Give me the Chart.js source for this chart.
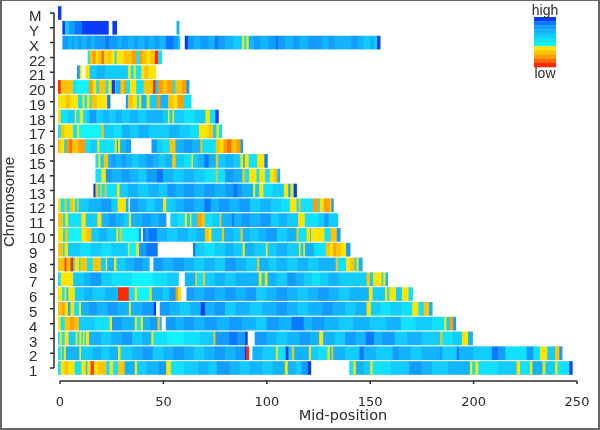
<!DOCTYPE html>
<html>
<head>
<meta charset="utf-8">
<script src="https://cdn.jsdelivr.net/npm/chart.js@4"></script>
<style>
  html, body { margin: 0; background: #fff; }
  #frame { position: relative; width: 600px; height: 430px; box-sizing: border-box; border: 2px solid #666; border-top-width: 1px; overflow: hidden; }
  /* the reference is a soft, scaled-up bitmap */
  #chart { position: absolute; left: -2px; top: -1px; filter: blur(0.45px); }
</style>
</head>
<body>
<div id="frame"><canvas id="chart" width="600" height="430"></canvas></div>
<script>
const CHROMOSOMES = ["M", "Y", "X", "22", "21", "20", "19", "18", "17", "16", "15", "14", "13", "12", "11", "10", "9", "8", "7", "6", "5", "4", "3", "2", "1"];
const X_TICKS = [0, 50, 100, 150, 200, 250];

// colour of each level, 0 = low ... 11 = high
const LEVEL_COLORS = ["#ff2a00", "#ff6a00", "#ff9c00", "#ffc400", "#ffe400", "#12f2ff", "#12e0ff", "#12ccff", "#12b4ff", "#129cff", "#0a78ff", "#0a3cf5"];

// every run is [end in Mb, level]; null level = no data
const chrM = [[0.5, 11]];
const chrY = [[1.3, null], [2.6, 11], [4.5, 7], [7.3, 9], [10.8, 10], [23.4, 11], [25.5, null], [27.4, 11], [56.5, null], [57.6, 8]];
const chrX = [[1.3, null], [4, 9], [6, 8], [7, 9], [9, 8], [10.5, 9], [13, 8], [15, 9], [17, 8], [19, 9], [22, 9], [24, 10], [28, 9], [30, 8], [33, 9], [36, 8], [38, 9], [41, 8], [43, 9], [46, 8], [48, 9], [51.3, 8], [55, 10], [57.3, 9], [58, 7], [60.5, null], [62, 11], [65, 9], [68, 8], [72, 9], [75, 8], [76.6, 10], [80, 9], [84, 8], [88.2, 7], [89.2, 4], [90.3, 6], [91.4, 4], [94, 8], [97, 9], [101, 8], [104.5, 9], [105.6, 10], [109, 9], [113, 8], [116, 9], [120, 8], [123, 9], [127, 9], [130, 8], [133, 9], [137, 8], [141, 8], [144, 9], [147, 8], [150, 7], [152, 8], [153.5, 7], [154.8, 11]];
const chr22 = [[13.5, null], [14.5, 6], [16, 3], [17.5, 2], [18.5, 4], [20.2, 3], [21.5, 1], [23, 4], [25, 3], [26.6, 4], [27.5, 6], [31, 4], [35, 3], [37, 2], [38.6, 6], [40, 2], [42, 3], [44, 4], [46, 3], [47.6, 0], [49.2, 6]];
const chr21 = [[8.4, null], [9.7, 9], [10.3, 4], [12.4, null], [14.5, 4], [18, 7], [22, 8], [26, 7], [33, 7], [34.4, 4], [35.8, 6], [36.8, 4], [39.5, 6], [41, 4], [43, 3], [46.3, 4]];
const chr20 = [[0.5, 0], [3, 3], [6.5, 3], [7.8, 6], [14.2, 5], [16, 2], [17.7, 4], [19, 6], [22.3, 3], [23.5, 6], [25, 4], [25.3, 7], [26.6, 11], [27.2, null], [29.4, 8], [31, 3], [32, 2], [34, 6], [37, 4], [40.6, 6], [43, 3], [45.2, 3], [46.3, 0], [47.6, 7], [50, 2], [52, 3], [54.8, 2], [56, 6], [59, 3], [61.3, 2], [62.4, 9]];
const chr19 = [[3, 4], [5, 3], [8.9, 4], [11, 6], [12, 4], [13.2, 6], [14.5, 4], [15.3, 6], [18, 3], [20, 4], [23, 4], [24.2, 10], [32, null], [33, 9], [35.5, 3], [37.4, 4], [38.4, 6], [39.5, 4], [42, 8], [43.5, 4], [47, 7], [48.7, 2], [52.4, 8], [55, 3], [57, 4], [60, 2], [63.4, 6]];
const chr18 = [[0.5, 4], [4, 6], [7.3, 7], [8, 4], [9.7, 6], [11.3, 4], [13, 6], [14.5, 7], [17.7, 9], [21, 7], [24, 8], [27, 7], [30, 8], [34, 7], [38, 8], [42, 7], [46, 8], [50, 8], [52.4, 7], [53.2, 4], [54.5, 7], [55.3, 4], [60, 7], [65, 6], [70.5, 7], [72.6, 4], [75.3, 6], [76.6, 11]];
const chr17 = [[0.5, 6], [2.4, 3], [6.5, 4], [8.4, 6], [9.4, 4], [20.2, 5], [21.3, 3], [26, 7], [30, 6], [34, 8], [38, 7], [43, 8], [48, 7], [53, 7], [58, 8], [63, 7], [67.4, 6], [72, 4], [74.2, 3], [75.8, 7], [77, 4], [78.2, 6]];
const chr16 = [[0.5, 3], [2.2, 4], [3.2, 7], [4.8, 2], [6, 1], [9, 3], [12.4, 2], [15, 6], [18.2, 7], [19.2, 4], [26.6, 6], [27.6, 4], [28.2, 8], [29.2, 4], [32, 8], [34.2, 9], [44.4, null], [47, 9], [50, 7], [53.2, 6], [56, 3], [60, 8], [64, 9], [68, 8], [69, 3], [75.5, 6], [77.5, 3], [79.2, 4], [81, 2], [83, 1], [85.5, 3], [87.5, 2], [88.4, 9]];
const chr15 = [[17.3, null], [18.7, 6], [19.7, 4], [21.3, 7], [23.4, 3], [25, 8], [27, 9], [30, 8], [32, 9], [35, 8], [38, 7], [42, 8], [45, 9], [48, 8], [51, 7], [54.4, 8], [56.1, 3], [60, 7], [63.7, 6], [64.5, 4], [67, 7], [70, 8], [72, 10], [75.5, 8], [76.6, 3], [80, 7], [84, 8], [87.4, 7], [88.7, 4], [89.5, 8], [91.4, 4], [95.5, 6], [99, 4], [100.3, 10]];
const chr14 = [[17.3, null], [20.2, 6], [22.3, 4], [25, 9], [30, 8], [34, 9], [38, 8], [42, 7], [47, 9], [50, 10], [55, 8], [60, 7], [65, 8], [70, 7], [75.5, 6], [76.3, 3], [80, 6], [84, 9], [88.3, 8], [89.5, 3], [91.6, 6], [95.2, 4], [96.5, 6], [99.3, 4], [101.6, 6], [103.5, 4], [105.2, 3], [106.3, 8]];
const chr13 = [[16.3, null], [17.3, 11], [18.5, 3], [19.5, 6], [20.3, 3], [21.8, 6], [22.6, 3], [27.7, 6], [29, 4], [33, 7], [38, 8], [43, 7], [48, 8], [52, 7], [56, 9], [60, 8], [65, 9], [70, 8], [75, 9], [80, 8], [84, 9], [86, 10], [88, 9], [93.5, 8], [94.5, 4], [96.5, 7], [98.5, 4], [103, 6], [108.4, 7], [110.5, 4], [111.6, 8], [112.9, 4], [113.3, 8], [114.4, 11]];
const chr12 = [[0.5, 4], [2.4, 6], [3.4, 3], [5, 6], [6.6, 3], [7.3, 4], [8.5, 6], [9.3, 3], [14, 7], [20, 8], [25, 9], [28, 7], [30.2, 4], [32, 4], [33, 8], [34, null], [38, 9], [42, 8], [46, 7], [50, 8], [51.5, 4], [56, 7], [60, 8], [65, 9], [70, 8], [73, 10], [77, 8], [82, 9], [87, 8], [92, 9], [97, 7], [102, 8], [107, 7], [111.3, 6], [114.5, 4], [115.6, 6], [116.5, 3], [122.5, 6], [125, 2], [125.8, 6], [127.7, 4], [130.6, 2], [131.4, 3], [132.2, 9]];
const chr11 = [[1.6, 3], [2.7, 6], [4, 4], [10.5, 6], [12.6, 4], [18.2, 7], [20.2, 4], [24, 8], [27, 9], [31, 8], [33.5, 7], [34.5, 4], [40, 8], [44, 9], [48, 8], [51.3, 9], [53.5, null], [57, 7], [60.5, 6], [61.6, 4], [63, 7], [63.7, 4], [66.5, 7], [68.5, 2], [70.2, 3], [74, 6], [77.4, 7], [78.2, 3], [83.4, 8], [84.4, 10], [88, 8], [92, 9], [97, 8], [102, 9], [106, 7], [110, 8], [115.3, 7], [118.5, 4], [125, 6], [128, 7], [130, 9], [134.4, 7]];
const chr10 = [[1.6, 4], [2.7, 6], [4, 3], [10.5, 5], [13, 4], [15.3, 3], [19, 7], [23, 8], [27.4, 7], [28.2, 4], [29, 6], [30, 3], [38.2, 5], [39, 9], [40.3, null], [41.4, 10], [43, 9], [47, 10], [52, 8], [57, 7], [62, 8], [66, 7], [70.2, 8], [72, 3], [73.4, 4], [78.5, 7], [79.5, 3], [84, 8], [87.5, 7], [88.5, 3], [92, 8], [96, 7], [100, 8], [105, 9], [110, 7], [114.5, 8], [115.5, 3], [119.4, 6], [121, 4], [121.5, 7], [128, 4], [131, 6], [134, 3], [135.5, 9]];
const chr9 = [[1.6, 3], [2.4, 6], [4, 4], [10, 7], [15, 6], [20, 7], [25, 6], [33, 7], [33.6, 4], [37, 5], [38.4, 4], [42, 9], [47.1, 10], [64.5, null], [65.6, 10], [70, 7], [75, 6], [80, 7], [84, 8], [88.5, 7], [89.5, 4], [94, 8], [99.7, 7], [100.5, 4], [105, 7], [110, 8], [115.7, 7], [116.5, 4], [117.8, 7], [118.6, 4], [123, 8], [128.7, 6], [130.6, 3], [132.3, 4], [133.5, 2], [136, 3], [138.5, 4], [140.3, 9]];
const chr8 = [[2.4, 3], [3.2, 0], [5.2, 3], [6.5, 0], [7.3, 6], [9.4, 4], [10, 6], [13.2, 3], [16, 6], [20, 3], [22.3, 7], [23, 4], [26.3, 8], [27.4, 4], [32, 7], [36, 8], [40, 9], [43.2, 8], [45.3, null], [50, 9], [55, 8], [60, 9], [65, 8], [70, 7], [75, 8], [80, 7], [85, 9], [90, 8], [95.5, 7], [96.5, 3], [101, 8], [105, 7], [110, 8], [115, 7], [120, 8], [125, 7], [133.5, 8], [134.5, 3], [138.5, 6], [140.6, 4], [142.6, 3], [143.6, 6], [144.6, 4], [146.2, 8]];
const chr7 = [[0.5, 6], [6.5, 4], [12, 7], [15, 8], [20, 9], [25, 7], [35, 6], [45, 5], [52, 6], [57.3, 7], [60.5, null], [65.5, 8], [66.3, 3], [69.4, 6], [70.3, 3], [75, 7], [80, 8], [85, 7], [90, 8], [96.3, 8], [97.6, 4], [99.2, 7], [100.5, 4], [105, 8], [110, 7], [114, 9], [118, 8], [122, 7], [126, 6], [130, 7], [135, 8], [140, 7], [148.4, 7], [150, 3], [151.6, 7], [155.7, 4], [156.5, 6], [157.6, 4], [158.4, 8]];
const chr6 = [[1.2, 4], [2.4, 6], [3.2, 4], [4.2, 7], [7.3, 4], [12, 7], [16, 8], [22, 7], [28.2, 8], [33.4, 0], [36.3, 6], [37.4, 4], [43.5, 5], [44.5, 4], [50, 8], [53, 7], [56, 9], [57.3, 2], [58.5, 4], [61.3, null], [65, 9], [70, 8], [75, 9], [80, 8], [85, 9], [90, 8], [95, 9], [100, 7], [105, 8], [110, 9], [115, 8], [120, 7], [125, 8], [130, 9], [135, 8], [140, 7], [145, 8], [149.5, 8], [151.3, 4], [157.3, 7], [158.4, 4], [159.4, 6], [162.6, 4], [165.5, 7], [168.7, 4], [170.5, 6]];
const chr5 = [[1.2, 3], [2.4, 2], [4, 4], [5.2, 8], [7, 4], [9.4, 6], [10.3, 4], [14, 8], [18, 9], [23, 8], [28, 9], [33.5, 8], [34.4, 4], [40, 8], [45.5, 9], [46.3, 11], [48.4, null], [53, 9], [58, 8], [63, 7], [68.2, 8], [70.2, 11], [75, 8], [80, 9], [85, 7], [92, 8], [98, 7], [105, 8], [110, 9], [115, 8], [120, 7], [127, 8], [132, 9], [138, 8], [143, 7], [148.4, 8], [150.5, 4], [155, 7], [160, 6], [165, 7], [170.5, 6], [173.5, 4], [176, 6], [178.6, 3], [180, 8]];
const chr4 = [[0.5, 4], [2.4, 6], [5, 3], [7, 2], [9.3, 3], [17, 7], [24.2, 6], [25.3, 4], [30, 9], [36.3, 8], [37.3, 4], [39.2, 6], [40.3, 4], [44, 8], [47.3, 9], [48.4, 3], [49, 8], [51.3, null], [56, 9], [60, 8], [65, 9], [70, 8], [76, 9], [82, 8], [88, 9], [95, 8], [100, 7], [106, 9], [112, 8], [118, 10], [122, 8], [128, 9], [135, 8], [142, 7], [150, 8], [158, 7], [165, 8], [172, 6], [180, 7], [186, 6], [187, 4], [188.5, 7], [190.3, 2], [191.4, 9]];
const chr3 = [[0, 6], [1, 4], [2.4, 6], [4.3, 4], [7.7, 7], [8.5, 4], [9.5, 6], [10.5, 4], [11.3, 6], [12, 4], [12.6, 7], [14.2, 4], [20, 8], [25, 7], [30, 8], [35, 9], [40, 7], [44.3, 8], [45.3, 4], [52, 6], [60, 5], [68, 6], [74.4, 7], [75.3, 3], [82, 9], [86, 10], [89.7, 9], [90.6, 11], [94.3, null], [100, 9], [105, 8], [110, 7], [116, 8], [121, 9], [125.5, 8], [127.4, 4], [133, 8], [138, 7], [143, 9], [148, 8], [152, 10], [156, 8], [162, 9], [168, 7], [175, 8], [184, 7], [185, 3], [190, 6], [194.5, 7], [197.5, 4], [199.5, 8]];
const chr2 = [[0.5, 6], [1, 4], [2, 7], [3, 4], [9.5, 8], [10.3, 4], [16, 7], [20, 8], [24, 7], [28.2, 8], [29.4, 4], [35, 7], [40, 8], [45, 9], [50, 7], [55, 8], [60, 9], [65, 8], [70, 7], [75, 8], [80, 9], [85, 8], [89.5, 9], [90.2, 11], [91.3, 0], [93.2, null], [98, 8], [104.5, 7], [105.5, 4], [109.3, 6], [110.6, 11], [112.4, 7], [113.4, 3], [120.5, 8], [121.5, 4], [125, 7], [129.5, 6], [130.6, 4], [131.5, 7], [132.3, 3], [138, 8], [145, 7], [147, 10], [153, 8], [161, 7], [164, 9], [170, 8], [175, 7], [184, 8], [185, 9], [192, 7], [193, 10], [200, 8], [209, 7], [212, 10], [215.5, 9], [225.8, 6], [229, 9], [232.3, 6], [235.8, 4], [239.5, 7], [241.6, 3], [242.8, 9]];
const chr1 = [[0.5, 6], [2.4, 4], [4, 3], [7.3, 4], [10.5, 6], [12.6, 4], [13.4, 7], [15, 4], [16.5, 0], [18.5, 4], [22.5, 3], [24.2, 6], [25.8, 4], [28.2, 6], [31.4, 3], [36.3, 8], [37.4, 4], [42, 7], [48, 8], [51.5, 9], [53.8, 4], [60, 6], [67, 7], [72, 8], [76, 7], [82, 9], [87, 8], [92, 7], [98, 8], [103, 7], [108.9, 8], [110.3, 4], [114, 8], [117, 7], [120, 9], [121.3, 11], [140, null], [142, 6], [143.2, 4], [147, 8], [150.2, 7], [151.3, 4], [160, 6], [169, 7], [175, 9], [180, 8], [188, 7], [198.4, 8], [199.5, 4], [201, 6], [202.4, 4], [212, 6], [221, 7], [222.6, 4], [227.4, 6], [228.6, 4], [233.5, 8], [234.8, 4], [239.6, 7], [240.7, 4], [246.5, 6], [247.7, 11]];

const RUNS = [chrM, chrY, chrX, chr22, chr21, chr20, chr19, chr18, chr17, chr16, chr15, chr14, chr13, chr12, chr11, chr10, chr9, chr8, chr7, chr6, chr5, chr4, chr3, chr2, chr1];

// turn the runs into floating bars
const bars = [];
const barColors = [];
RUNS.forEach((runs, i) => {
  let start = -0.8;
  runs.forEach(([end, level]) => {
    if (level !== null) {
      bars.push({ x: [start, end], y: CHROMOSOMES[i] });
      barColors.push(LEVEL_COLORS[level]);
    }
    start = end;
  });
});

const INK = "#2b2b2b";

// detached R-style axes, axis titles and the high/low key
const extras = {
  id: "extras",
  afterDraw(chart) {
    const { ctx, chartArea, scales: { x, y } } = chart;
    ctx.save();
    ctx.strokeStyle = INK;
    ctx.lineWidth = 1.5;
    const yLine = chartArea.left - 6;
    const xLine = chartArea.bottom + 13;
    ctx.beginPath();
    ctx.moveTo(yLine, y.getPixelForValue(0));
    ctx.lineTo(yLine, y.getPixelForValue(CHROMOSOMES.length - 1));
    CHROMOSOMES.forEach((c, i) => {
      const py = y.getPixelForValue(i);
      ctx.moveTo(yLine - 4, py);
      ctx.lineTo(yLine, py);
    });
    ctx.moveTo(x.getPixelForValue(0), xLine);
    ctx.lineTo(x.getPixelForValue(250), xLine);
    X_TICKS.forEach((t) => {
      const px = x.getPixelForValue(t);
      ctx.moveTo(px, xLine);
      ctx.lineTo(px, xLine + 3);
    });
    ctx.stroke();

    ctx.fillStyle = INK;
    ctx.textAlign = "center";
    ctx.textBaseline = "alphabetic";
    ctx.font = "14.5px 'DejaVu Sans'";
    ctx.fillText("Mid-position", 343, 420);

    ctx.save();
    ctx.translate(14, 202);
    ctx.rotate(-Math.PI / 2);
    ctx.font = "15px 'Liberation Sans'";
    ctx.fillText("Chromosome", 0, 0);
    ctx.restore();

    // key, high at the top
    const band = 50 / LEVEL_COLORS.length;
    LEVEL_COLORS.slice().reverse().forEach((c, i) => {
      ctx.fillStyle = c;
      ctx.fillRect(534, 17 + i * band, 22, band + 0.3);
    });
    ctx.fillStyle = INK;
    ctx.font = "14px 'Liberation Sans'";
    ctx.fillText("high", 545, 15);
    ctx.fillText("low", 545, 78);
    ctx.restore();
  },
};

new Chart(document.getElementById("chart"), {
  type: "bar",
  data: {
    labels: CHROMOSOMES,
    datasets: [{
      data: bars,
      backgroundColor: barColors,
      borderWidth: 0,
      barThickness: 13,
      clip: false,
    }],
  },
  options: {
    indexAxis: "y",
    responsive: false,
    animation: false,
    events: [],
    layout: { padding: { top: 13, right: 23, left: 29 } },
    plugins: { legend: { display: false }, tooltip: { enabled: false } },
    scales: {
      x: {
        type: "linear",
        min: 0,
        max: 250,
        grid: { display: false, drawTicks: false },
        border: { display: false },
        afterFit: (scale) => {
          scale.height = 62;
          scale.paddingLeft = 0;
          scale.paddingRight = 0;
        },
        afterBuildTicks: (scale) => { scale.ticks = X_TICKS.map((value) => ({ value })); },
        ticks: { padding: 27, maxRotation: 0, color: INK, font: { family: "DejaVu Sans", size: 13 } },
      },
      y: {
        type: "category",
        offset: false,
        grid: { display: false, drawTicks: false },
        border: { display: false },
        afterFit: (scale) => {
          scale.width = 31;
          scale.paddingTop = 0;
          scale.paddingBottom = 0;
        },
        ticks: {
          autoSkip: false,
          crossAlign: "far",
          padding: 17,
          labelOffset: 4,
          color: INK,
          font: { family: "Liberation Sans", size: 15 },
        },
      },
    },
  },
  plugins: [extras],
});
</script>
</body>
</html>
